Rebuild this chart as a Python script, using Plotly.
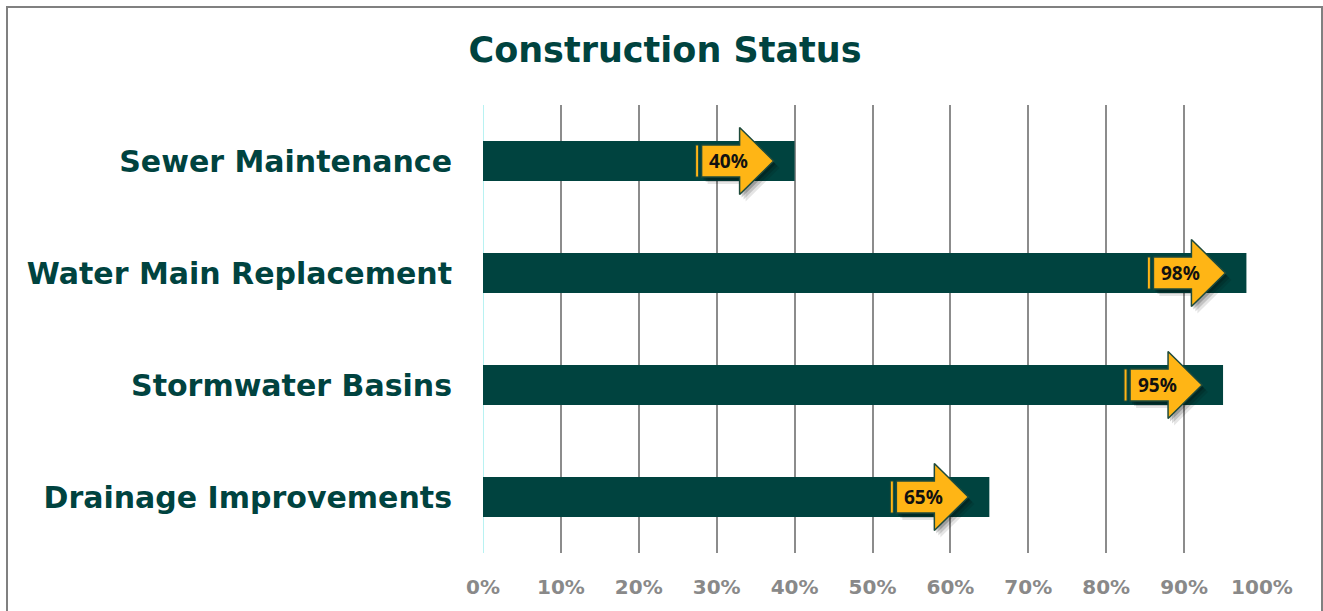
import plotly.graph_objects as go

categories = ["Sewer Maintenance", "Water Main Replacement", "Stormwater Basins", "Drainage Improvements"]
percent_complete = [40, 98, 95, 65]
x_tick_vals = [0, 10, 20, 30, 40, 50, 60, 70, 80, 90, 100]
x_tick_text = ["0%", "10%", "20%", "30%", "40%", "50%", "60%", "70%", "80%", "90%", "100%"]

BAR = "#00433F"
TITLE = "#00433F"
YELLOW = "#FFB515"
OUTLINE = "#1E4A3C"

W, H = 1323, 611
L, R, T, B = 483, 61, 105, 58
pw = W - L - R
ph = H - T - B
px_x = 100 / pw          # data units per pixel (x)
px_y = 4 / ph            # data units per pixel (y)

fig = go.Figure()

idx = list(range(len(categories)))
fig.add_trace(go.Bar(
    x=percent_complete, y=idx, orientation="h",
    width=40 * px_y, marker=dict(color=BAR, line=dict(width=0)),
    hoverinfo="skip", showlegend=False,
))

def arrow_path(v, yc, dx=0.0, dy=0.0):
    tip = v - 21 * px_x
    hb = tip - 34 * px_x
    bl = hb - 38 * px_x
    hh = 33.5 * px_y
    bh = 16 * px_y
    xs = [bl, hb, hb, tip, hb, hb, bl, bl]
    ys = [yc - bh, yc - bh, yc - hh, yc, yc + hh, yc + bh, yc + bh, yc - bh]
    return [x + dx for x in xs], [y + dy for y in ys]

for v, yc in zip(percent_complete, idx):
    # shadow
    for k, a in [(6, 0.10), (4, 0.15), (2, 0.2)]:
        xs, ys = arrow_path(v, yc, k * px_x, (k + 1) * px_y)
        fig.add_trace(go.Scatter(x=xs, y=ys, fill="toself", mode="lines",
                                 line=dict(width=0), fillcolor=f"rgba(0,0,0,{a})",
                                 hoverinfo="skip", showlegend=False))
    xs, ys = arrow_path(v, yc)
    fig.add_trace(go.Scatter(x=xs, y=ys, fill="toself", mode="lines",
                             line=dict(width=1.5, color=OUTLINE), fillcolor=YELLOW,
                             hoverinfo="skip", showlegend=False))
    # stripe
    tip = v - 21 * px_x
    bl = tip - 72 * px_x
    s0 = bl - 6 * px_x
    s1 = bl - 3 * px_x
    bh = 16 * px_y
    fig.add_trace(go.Scatter(x=[s0, s1, s1, s0, s0], y=[yc - bh, yc - bh, yc + bh, yc + bh, yc - bh],
                             fill="toself", mode="lines", line=dict(width=1, color=OUTLINE),
                             fillcolor=YELLOW, hoverinfo="skip", showlegend=False))
    fig.add_annotation(x=tip - 45 * px_x, y=yc, text=f"<b>{v}%</b>", showarrow=False,
                       font=dict(family="Noto Sans", size=19, color="#111111"),
                       xanchor="center", yanchor="middle")

fig.add_shape(type="rect", xref="paper", yref="paper",
              x0=(7 - L) / pw, x1=(1322 - L) / pw, y0=-(H + 10 - (H - B)) / ph, y1=(H - B - 7) / ph,
              line=dict(color="#808080", width=2), fillcolor="rgba(0,0,0,0)", layer="below")

fig.update_layout(
    width=W, height=H,
    margin=dict(l=L, r=R, t=T, b=B),
    paper_bgcolor="white", plot_bgcolor="white",
    title=dict(text="<b>Construction Status</b>", x=665 / W, xanchor="center",
               y=1 - 50 / H, yanchor="middle", yref="container",
               font=dict(family="DejaVu Sans", size=35, color=TITLE)),
    xaxis=dict(range=[0, 100], tickvals=x_tick_vals, ticktext=x_tick_text,
               showgrid=True, gridcolor="#8C8C8C", gridwidth=1.5,
               zeroline=False, showline=False, ticks="",
               ticklabelstandoff=20,
               tickfont=dict(family="DejaVu Sans", size=20, color="#898989", weight="bold")),
    yaxis=dict(range=[3.5, -0.5], tickvals=idx, ticktext=[f"<b>{c}</b>" for c in categories],
               showgrid=False, zeroline=False, showline=False, ticks="",
               ticklabelstandoff=30,
               tickfont=dict(family="DejaVu Sans", size=30, color=TITLE)),
)
fig.add_shape(type="line", xref="x", yref="paper", x0=0, x1=0, y0=0, y1=1,
              line=dict(color="#B8F2F2", width=2), layer="below")

fig.write_html("out.html", config={"displayModeBar": False},
               post_script="document.body.style.margin='0';")
